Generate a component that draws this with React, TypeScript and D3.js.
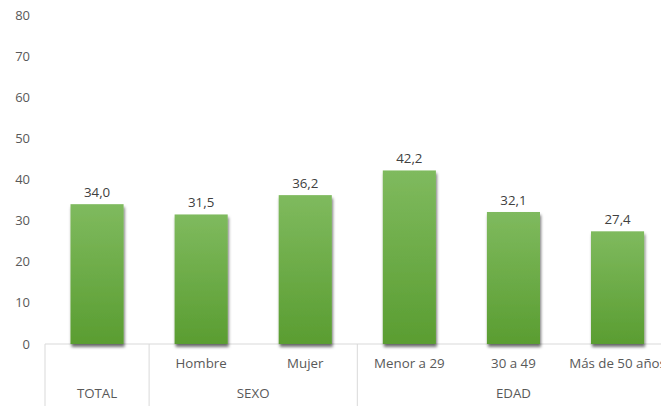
import { useEffect, useRef } from 'react'
import * as d3 from 'd3'

const categories = ['TOTAL', 'Hombre', 'Mujer', 'Menor a 29', '30 a 49', 'Más de 50 años']
const subLabels = ['', 'Hombre', 'Mujer', 'Menor a 29', '30 a 49', 'Más de 50 años']
const values = [34.0, 31.5, 36.2, 42.2, 32.1, 27.4]
const groups = [
  { name: 'TOTAL', start: 0, end: 1 },
  { name: 'SEXO', start: 1, end: 3 },
  { name: 'EDAD', start: 3, end: 6 },
]
const yTicks = [0, 10, 20, 30, 40, 50, 60, 70, 80]

const W = 661
const H = 406
const FONT = "'Open Sans', sans-serif"
const TEXT = '#595959'

export default function App() {
  const svgRef = useRef<SVGSVGElement>(null)

  useEffect(() => {
    if (!svgRef.current) return
    const svg = d3.select(svgRef.current)
    svg.selectAll('*').remove()

    const left = 45
    const bandW = 104.1
    const x = d3.scaleBand<string>()
      .domain(categories)
      .range([left, left + bandW * categories.length])
      .paddingInner(0.49)
      .paddingOuter(0.245)
    const y = d3.scaleLinear().domain([0, 80]).range([344, 15])

    const defs = svg.append('defs')
    const grad = defs.append('linearGradient')
      .attr('id', 'barGrad')
      .attr('x1', 0).attr('y1', 0).attr('x2', 0).attr('y2', 1)
    grad.append('stop').attr('offset', '0%').attr('stop-color', '#7fba5e')
    grad.append('stop').attr('offset', '100%').attr('stop-color', '#5a9d31')

    const shadow = defs.append('filter')
      .attr('id', 'shadow')
      .attr('x', '-20%').attr('y', '-10%').attr('width', '140%').attr('height', '130%')
    shadow.append('feDropShadow')
      .attr('dx', 1).attr('dy', 3).attr('stdDeviation', 1.6)
      .attr('flood-color', '#000').attr('flood-opacity', 0.55)

    // y axis labels
    svg.append('g')
      .selectAll('text')
      .data(yTicks)
      .enter().append('text')
      .attr('x', 30)
      .attr('y', d => y(d))
      .attr('dy', '0.35em')
      .attr('text-anchor', 'end')
      .style('font-family', FONT)
      .style('font-size', '13px')
      .style('fill', TEXT)
      .text(d => d)

    // category axis line
    svg.append('line')
      .attr('x1', left).attr('x2', W)
      .attr('y1', y(0)).attr('y2', y(0))
      .attr('stroke', '#d9d9d9')

    // bars
    svg.append('g')
      .selectAll('rect')
      .data(values)
      .enter().append('rect')
      .attr('x', (_, i) => x(categories[i])!)
      .attr('y', d => y(d))
      .attr('width', x.bandwidth())
      .attr('height', d => y(0) - y(d))
      .attr('fill', 'url(#barGrad)')
      .attr('filter', 'url(#shadow)')

    // value labels
    svg.append('g')
      .selectAll('text')
      .data(values)
      .enter().append('text')
      .attr('x', (_, i) => x(categories[i])! + x.bandwidth() / 2)
      .attr('y', d => y(d) - 7)
      .attr('text-anchor', 'middle')
      .style('font-family', FONT)
      .style('font-size', '13.3px')
      .style('fill', '#404040')
      .text(d => d3.format('.1f')(d).replace('.', ','))

    // dividers between groups
    const edges = [0, 1, 3]
    svg.append('g')
      .selectAll('line')
      .data(edges)
      .enter().append('line')
      .attr('x1', d => left + d * bandW)
      .attr('x2', d => left + d * bandW)
      .attr('y1', y(0))
      .attr('y2', H)
      .attr('stroke', '#d9d9d9')

    // sub labels
    svg.append('g')
      .selectAll('text')
      .data(subLabels)
      .enter().append('text')
      .attr('x', (_, i) => x(categories[i])! + x.bandwidth() / 2)
      .attr('y', 363)
      .attr('dy', '0.35em')
      .attr('text-anchor', 'middle')
      .style('font-family', FONT)
      .style('font-size', '13.3px')
      .style('fill', TEXT)
      .text(d => d)

    // group labels
    svg.append('g')
      .selectAll('text')
      .data(groups)
      .enter().append('text')
      .attr('x', d => left + (d.start + d.end) / 2 * bandW)
      .attr('y', 393)
      .attr('dy', '0.35em')
      .attr('text-anchor', 'middle')
      .style('font-family', FONT)
      .style('font-size', '13.3px')
      .style('fill', TEXT)
      .text(d => d.name)
  }, [])

  return (
    <svg
      ref={svgRef}
      width={W}
      height={H}
      style={{ position: 'absolute', left: 0, top: 0, background: '#fff' }}
    ></svg>
  )
}
